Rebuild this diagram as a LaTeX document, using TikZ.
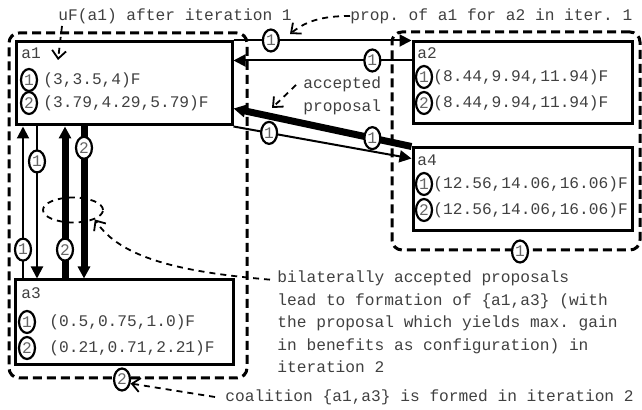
\documentclass[tikz,border=0pt]{standalone}
\usepackage{fontspec}
\setmonofont{Liberation Mono}
\usetikzlibrary{arrows.meta,calc,fit,shapes.geometric}

\begin{document}
\begin{tikzpicture}[x=0.5pt,y=-0.5pt,
    every node/.style={font=\ttfamily\fontsize{8.1}{11.25}\selectfont, text=black!75},
    agentbox/.style={draw, line width=1.5pt, inner sep=0pt},
    coalition/.style={draw, dash pattern=on 4.5pt off 2.5pt, line width=1.5pt,
        rounded corners=5pt, inner sep=0pt},
    num/.style={ellipse, draw, line width=1.1pt, fill=white, inner sep=0pt,
        minimum width=8pt, minimum height=11pt, text=black!60},
    prop/.style={line width=1pt, -{Triangle[length=6pt,width=6pt]}},
    accept/.style={line width=3.5pt, -{Triangle[length=6pt,width=6pt]}},
    note/.style={dash pattern=on 3pt off 2.5pt, line width=0.9pt,
        -{Straight Barb[length=4pt,width=7pt]}},
    lbl/.style={inner sep=0pt, anchor=west}]

    \useasboundingbox (0,0) rectangle (642,410);

    % coalitions
    \node[coalition, fit={(9,33) (247,378)}] (c13) {};
    \node[coalition, fit={(392,32) (640,250)}] (c24) {};

    % agents
    \node[agentbox, fit={(16,42) (232,125)}] (a1) {};
    \node[agentbox, fit={(413,42) (632,124)}] (a2) {};
    \node[agentbox, fit={(15,280) (233,365)}] (a3) {};
    \node[agentbox, fit={(413,148) (632,231)}] (a4) {};

    % a1
    \node[lbl] (a1name) at (21,53) {a1};
    \node[num] (a1n1) at (29,80) {1};
    \node[lbl] (a1v1) at (43,80) {(3,3.5,4)F};
    \node[num] (a1n2) at (29,103) {2};
    \node[lbl] (a1v2) at (43,103) {(3.79,4.29,5.79)F};

    % a2
    \node[lbl] (a2name) at (417,53) {a2};
    \node[num] (a2n1) at (424,77) {1};
    \node[lbl] (a2v1) at (433,77) {(8.44,9.94,11.94)F};
    \node[num] (a2n2) at (424,103) {2};
    \node[lbl] (a2v2) at (433,103) {(8.44,9.94,11.94)F};

    % a4
    \node[lbl] (a4name) at (417,160) {a4};
    \node[num] (a4n1) at (424,184) {1};
    \node[lbl] (a4v1) at (433,184) {(12.56,14.06,16.06)F};
    \node[num] (a4n2) at (424,210) {2};
    \node[lbl] (a4v2) at (433,210) {(12.56,14.06,16.06)F};

    % a3
    \node[lbl] (a3name) at (21,293) {a3};
    \node[num] (a3n1) at (27,322) {1};
    \node[lbl] (a3v1) at (49,322) {(0.5,0.75,1.0)F};
    \node[num] (a3n2) at (27,348) {2};
    \node[lbl] (a3v2) at (49,348) {(0.21,0.71,2.21)F};

    % proposals between a1 and a2, a4
    \draw[prop] (a1.north east) -- node[num, pos=0.21] (e1) {1} (a2.north west);
    \draw[prop] ($(a2.north west)+(0,20)$) -- node[num, pos=0.22] (e2) {1} ($(a1.north east)+(0,20)$);
    \draw[accept] (a4.north west) -- node[num, pos=0.22] (e3) {1} ($(a1.north east)+(0,68)$);
    \draw[prop] (a1.south east) -- node[num, pos=0.2] (e4) {1} ($(a4.north west)+(0,12)$);

    % proposals between a1 and a3
    \draw[prop] (23,0 |- a3.north) -- node[num, pos=0.19] (v1) {1} (23,0 |- a1.south);
    \draw[prop] (37,0 |- a1.south) -- node[num, pos=0.23] (v2) {1} (37,0 |- a3.north);
    \draw[accept] (65,0 |- a3.north) -- node[num, pos=0.19] (v3) {2} (65,0 |- a1.south);
    \draw[accept] (84,0 |- a1.south) -- node[num, pos=0.14] (v4) {2} (84,0 |- a3.north);

    \node[ellipse, draw, dash pattern=on 3pt off 2.5pt, line width=0.9pt,
        minimum width=30pt, minimum height=12.5pt] (pick) at (73,210) {};

    % iteration labels of the coalitions
    \node[num] (g13) at (122,0 |- c13.south) {2};
    \node[num] (g24) at (520,0 |- c24.south) {1};

    % notes
    \node[lbl] (n1) at (58,16) {uF(a1) after iteration 1};
    \draw[note] ($(n1.south west)+(4,2)$) -- (58,60);

    \node[lbl] (n2) at (350,16) {prop. of a1 for a2 in iter. 1};
    \draw[note] (n2.west) .. controls (320,16) and (305,22) .. (290,34);

    \node[lbl, align=left] (n3) at (303,96) {accepted\\proposal};
    \draw[note] ($(n3.west)+(-7,-11)$) -- (272,108);

    \node[lbl, align=left] (n4) at (277,322) {bilaterally accepted proposals\\lead to formation of \{a1,a3\} (with\\the proposal which yields max. gain\\in benefits as configuration) in\\iteration 2};
    \draw[note] ($(n4.north west)+(-7,9)$) .. controls (180,272) and (120,258) .. (pick.south east);

    \node[lbl] (n5) at (225,397) {coalition \{a1,a3\} is formed in iteration 2};
    \draw[note] ($(n5.west)+(-10,0)$) -- (g13.-25);
\end{tikzpicture}
\end{document}
